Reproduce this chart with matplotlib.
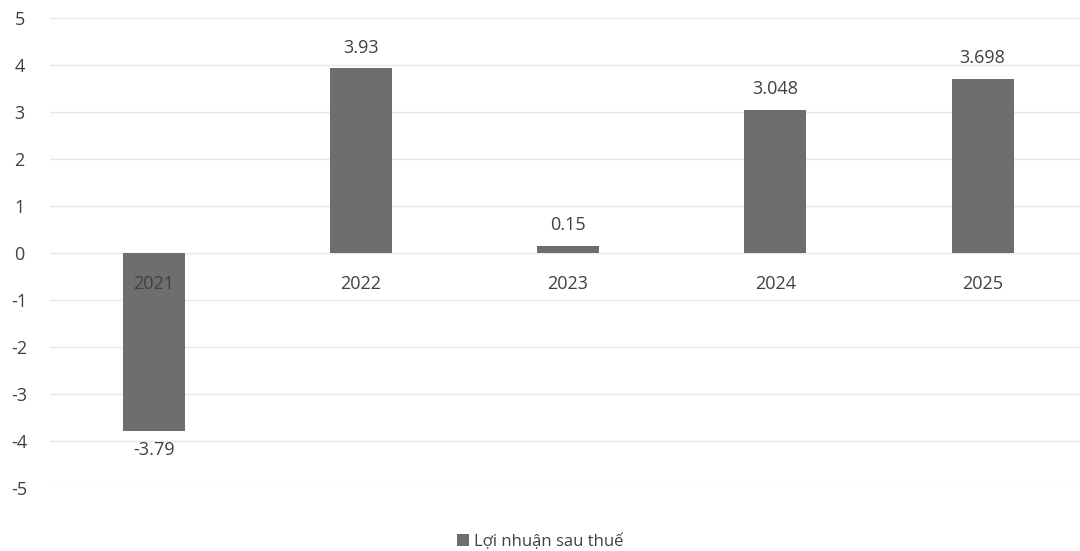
import matplotlib.pyplot as plt

years = ['2021', '2022', '2023', '2024', '2025']
profit = [-3.79, 3.93, 0.15, 3.048, 3.698]
profit_labels = ['-3.79', '3.93', '0.15', '3.048', '3.698']
series_name = 'Lợi nhuận sau thuế'

plt.rcParams['font.family'] = ['Open Sans', 'DejaVu Sans']
plt.rcParams['axes.unicode_minus'] = False

fig = plt.figure(figsize=(10.8, 5.51), dpi=100)
ax = fig.add_axes([50 / 1080, 1 - 488 / 551, 1030 / 1080, 470 / 551])

x = range(len(years))
bars = ax.bar(x, profit, width=0.3, color='#6e6e6e', label=series_name, zorder=3)

ax.set_ylim(-5, 5)
ax.set_xlim(-0.5, 4.47)
ax.set_yticks(range(-5, 6))
ax.yaxis.grid(True, color='#e8e8e8', linewidth=1, zorder=0)
ax.set_xticks([])
for s in ax.spines.values():
    s.set_visible(False)
ax.tick_params(axis='y', length=0, labelsize=13, labelcolor='#404040', pad=22)
for t in ax.get_yticklabels():
    t.set_horizontalalignment('center')

# category labels sit just under the zero line, Excel-style
for i, yr in enumerate(years):
    ax.text(i, -0.65, yr, ha='center', va='center', fontsize=13, color='#404040', zorder=4)

# value labels
for i, (v, lab) in enumerate(zip(profit, profit_labels)):
    if v >= 0:
        ax.text(i, v + 0.25, lab, ha='center', va='bottom', fontsize=13, color='#404040')
    else:
        ax.text(i, v - 0.22, lab, ha='center', va='top', fontsize=13, color='#404040')

fig.legend(handles=[bars], labels=[series_name], loc='lower center',
           bbox_to_anchor=(0.5, -0.025), frameon=False, fontsize=12,
           handlelength=0.7, handleheight=0.7, handletextpad=0.3,
           labelcolor='#404040')

fig.savefig('out.png', dpi=100)
